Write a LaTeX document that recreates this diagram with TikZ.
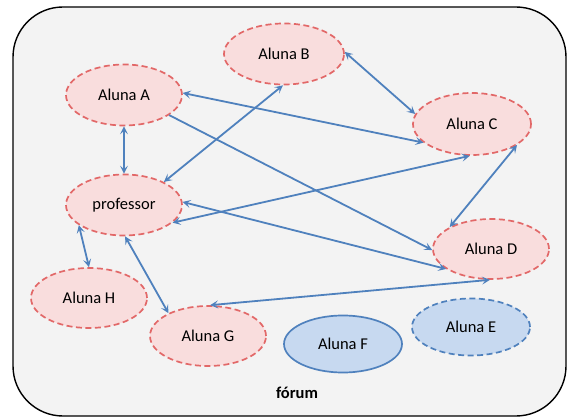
\documentclass[tikz,border=0pt]{standalone}
\usepackage{fontspec}
\setmainfont{Carlito}
\usetikzlibrary{shapes.geometric,arrows.meta}
\definecolor{pinkfill}{RGB}{249,221,221}
\definecolor{pinkline}{RGB}{226,104,104}
\definecolor{bluefill}{RGB}{199,217,240}
\definecolor{blueline}{RGB}{79,129,189}
\definecolor{boxfill}{RGB}{243,243,243}
\tikzset{
  person/.style={ellipse, draw=pinkline, fill=pinkfill, line width=1.7pt,
    dash pattern=on 6pt off 3.5pt, minimum width=116pt, minimum height=61pt,
    inner sep=0pt, font=\fontsize{16.5}{19}\selectfont},
  offline/.style={ellipse, draw=blueline, fill=bluefill, line width=1.7pt,
    minimum width=118pt, minimum height=57pt, inner sep=0pt,
    font=\fontsize{16.5}{19}\selectfont},
  link/.style={draw=blueline, line width=1.8pt,
    {Stealth[length=8pt,width=8pt,inset=3.5pt]}-{Stealth[length=8pt,width=8pt,inset=3.5pt]}},
  onelink/.style={draw=blueline, line width=1.8pt,
    -{Stealth[length=8pt,width=8pt,inset=3.5pt]}},
}
\begin{document}
\begin{tikzpicture}[x=1pt,y=-1pt]
\useasboundingbox (0,0) rectangle (567,419);
\draw[fill=boxfill, line width=1.4pt, rounded corners=50pt] (13,7) rectangle (566,416);
\node[person] (A) at (124,95) {Aluna A};
\node[person, minimum width=120pt] (B) at (284,54) {Aluna B};
\node[person, minimum width=118pt, minimum height=62pt] (C) at (472,124) {Aluna C};
\node[person] (P) at (124,205) {professor};
\node[person, minimum height=60pt] (D) at (491,249) {Aluna D};
\node[person, minimum height=60pt] (H) at (89,298) {Aluna H};
\node[person, minimum height=60pt] (G) at (208,336) {Aluna G};
\node[offline] (F) at (343,344) {Aluna F};
\node[offline, dash pattern=on 6pt off 3.5pt] (E) at (471,327) {Aluna E};
\node[font=\bfseries\fontsize{16.5}{19}\selectfont] (forum) at (297,393) {fórum};
\draw[link] (A.-90) -- (P.90);
\draw[link] (B.-92) -- (P.30);
\draw[link] (B.2) -- (C.170);
\draw[link] (A.2) -- (C.201);
\draw[onelink] (A.-24) -- (D.181);
\draw[link] (P.-20) -- (C.266);
\draw[link] (P.3) -- (D.204);
\draw[link] (C.-25) -- (D.152);
\draw[link] (P.204) -- (H.90);
\draw[link] (P.272) -- (G.150);
\draw[link] (G.86) -- (D.268);
\end{tikzpicture}
\end{document}
